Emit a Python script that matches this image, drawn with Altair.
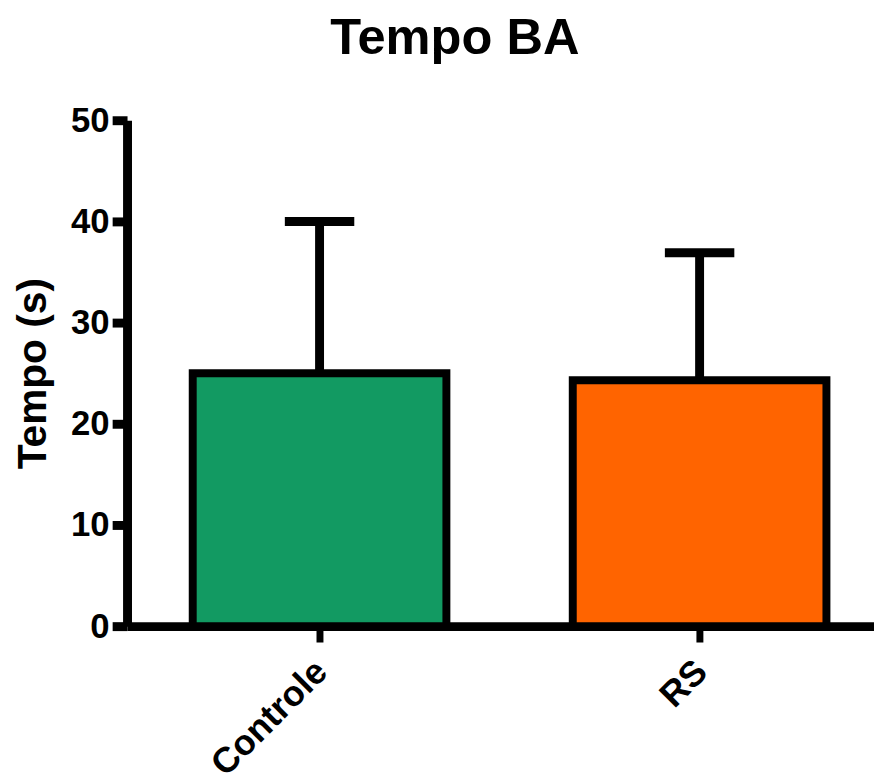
import altair as alt
import pandas as pd

categories = ["Controle", "RS"]
means = [25.0, 24.3]
sds = [15.0, 12.6]
colors = ["#129A62", "#FF6400"]
y_ticks = [0, 10, 20, 30, 40, 50]

df = pd.DataFrame({"grupo": categories, "media": means, "sd": sds})
df["topo"] = df["media"] + df["sd"]

FONT = "Liberation Sans"

x = alt.X(
    "grupo:N",
    sort=categories,
    title=None,
    scale=alt.Scale(paddingInner=0.3325, paddingOuter=0.149, align=0.58, round=False),
    axis=alt.Axis(
        labelAngle=-45,
        labelAlign="right",
        labelBaseline="top",
        labelFontSize=36,
        labelFont=FONT,
        labelFontWeight="bold",
        labelColor="black",
        labelPadding=12,
        labelOffset=-10,
        tickSize=16,
        tickWidth=7,
        tickColor="black",
        domainWidth=9,
        domainColor="black",
        grid=False,
    ),
)

yscale = alt.Scale(domain=[0, 50], nice=False)

bars = alt.Chart(df).mark_bar(stroke="black", strokeWidth=8, opacity=1).encode(
    x=x,
    y=alt.Y(
        "media:Q",
        scale=yscale,
        title="Tempo (s)",
        axis=alt.Axis(
            values=y_ticks,
            labelFontSize=35,
            labelFont=FONT,
            labelFontWeight="bold",
            labelColor="black",
            labelPadding=3,
            tickSize=15,
            tickWidth=9,
            tickColor="black",
            domainWidth=9,
            domainColor="black",
            grid=False,
            titleFontSize=41,
            titleFont=FONT,
            titleFontWeight="bold",
            titleColor="black",
            titleX=-82,
            titleBaseline="alphabetic",
        ),
    ),
    color=alt.Color("grupo:N", scale=alt.Scale(domain=categories, range=colors), legend=None),
)

rule = alt.Chart(df).mark_rule(color="black", strokeWidth=9, opacity=1).encode(
    x=alt.X("grupo:N", sort=categories),
    y=alt.Y("media:Q", scale=yscale),
    y2="topo:Q",
)

cap = alt.Chart(df).mark_tick(color="black", thickness=9, size=70, orient="horizontal", opacity=1).encode(
    x=alt.X("grupo:N", sort=categories),
    y=alt.Y("topo:Q", scale=yscale),
)

chart = alt.layer(rule, cap, bars).properties(
    width=753,
    height=510,
    padding={"left": 120, "top": 110, "right": 0, "bottom": 156},
    autosize="none",
    title=alt.TitleParams(
        "Tempo BA",
        fontSize=51,
        font=FONT,
        fontWeight="bold",
        color="black",
        anchor="middle",
        frame="group",
        baseline="alphabetic",
        dx=-46,
        dy=1,
        offset=0,
    ),
).configure_view(stroke=None)

chart.save("out.html", embed_options={"renderer": "svg", "actions": False})
